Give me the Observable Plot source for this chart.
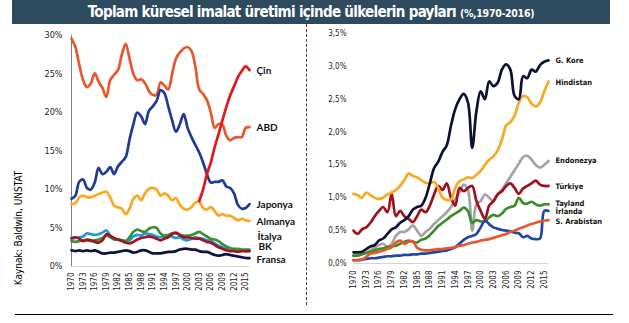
<!DOCTYPE html>
<html><head><meta charset="utf-8">
<script src="https://cdn.jsdelivr.net/npm/d3@7"></script>
<script src="https://cdn.jsdelivr.net/npm/@observablehq/plot@0.6"></script>
<style>
body{margin:0;background:#fff;width:629px;height:323px;overflow:hidden;position:relative;}
#title{position:absolute;left:12px;top:0;width:598px;height:24px;background:#2e4a5e;color:#fff;text-align:center;
 font-family:"DejaVu Sans Condensed","DejaVu Sans";font-stretch:condensed;font-weight:bold;font-size:15px;line-height:24px;letter-spacing:-0.7px;white-space:nowrap;}
#title small{font-size:10.5px;letter-spacing:-0.3px;}
#left{position:absolute;left:0;top:0}
#right{position:absolute;left:306px;top:0}
#divider{position:absolute;left:306px;top:24px;height:281px;border-left:1.3px dashed #8c1c1c}
#bottom{position:absolute;left:15px;top:314px;width:598px;border-top:1px solid #000}
#source{position:absolute;left:18px;top:228px;transform:translate(-50%,-50%) rotate(-90deg);white-space:nowrap;
 font-family:"DejaVu Sans Condensed","DejaVu Sans";font-stretch:condensed;font-size:10px;color:#000}
</style></head>
<body>
<div id="title">Toplam küresel imalat üretimi içinde ülkelerin payları <small>(%,1970-2016)</small></div>
<div id="left"></div>
<div id="right"></div>
<div id="divider"></div>
<div id="bottom"></div>
<div id="source">Kaynak: Baldwin, UNSTAT</div>
<script>
const years = d3.range(1970, 2017);
const xTicks = [1970,1973,1976,1979,1982,1985,1988,1991,1994,1997,2000,2003,2006,2009,2012,2015];
const leftTicks = [0,5,10,15,20,25,30];
const rightTicks = [0,0.5,1,1.5,2,2.5,3,3.5];

// Left panel (%)
const abd = [29.6,28.5,26.2,24.2,23.3,23.8,25.1,24.0,23.2,22.0,24.2,24.9,25.5,27.5,28.9,27.0,25.0,24.2,24.3,23.8,22.8,22.3,22.3,23.9,23.5,23.0,25.0,27.0,27.8,28.3,28.5,28.0,26.0,23.0,22.4,21.6,20.0,18.0,18.5,18.4,17.0,16.4,16.7,16.8,16.8,18.0,18.1];
const cin = [null,null,null,null,null,null,null,null,null,null,null,null,null,null,null,null,null,null,null,null,null,null,null,null,null,null,null,null,null,null,null,null,null,8.5,10.0,12.0,13.5,15.5,17.2,19.0,20.7,22.2,23.4,24.6,25.4,26.0,25.5];
const japonya = [8.8,9.2,11.0,11.3,10.2,10.0,10.9,12.8,12.0,12.3,12.9,12.0,13.0,13.6,14.2,16.5,18.5,20.0,19.5,18.5,20.2,20.8,21.5,22.9,22.5,20.8,19.0,17.5,18.5,19.8,18.0,16.8,15.8,14.8,13.5,12.0,10.9,11.0,11.0,11.2,10.4,10.2,9.5,8.0,7.5,7.6,8.1];
const almanya = [8.1,8.2,9.0,9.2,9.0,9.0,9.2,9.4,9.6,9.7,9.0,7.9,7.7,7.5,6.8,7.5,8.8,9.2,8.6,9.5,10.1,10.2,10.0,9.2,9.5,9.2,8.6,8.9,8.0,7.5,7.4,7.7,8.3,8.4,7.6,7.4,7.7,7.2,6.6,6.8,6.6,6.6,6.3,6.0,6.2,6.0,5.9];
const acikMavi = [3.6,3.7,3.8,3.9,4.3,4.2,4.1,4.2,4.4,4.7,4.0,3.6,3.5,3.4,3.3,3.4,3.9,4.1,4.0,4.3,4.2,4.1,3.9,3.8,3.9,4.0,3.9,3.7,3.8,3.5,3.4,3.6,3.8,3.7,3.6,3.4,3.3,3.0,2.7,2.5,2.3,2.2,2.1,2.1,2.1,2.0,2.0];
const italya = [3.3,3.2,3.3,3.4,3.4,3.3,3.4,3.5,3.7,4.0,3.8,3.5,3.5,3.4,3.3,3.8,4.5,4.8,4.6,4.5,4.9,5.1,5.0,4.3,4.0,4.1,4.3,4.3,4.1,4.0,4.0,4.1,4.3,4.5,4.2,3.9,3.6,3.5,3.3,2.9,2.6,2.4,2.3,2.3,2.2,2.2,2.2];
const bk = [3.7,3.8,3.6,3.3,3.5,3.4,3.2,3.1,3.4,4.2,4.0,3.7,3.5,3.3,3.1,3.0,3.2,3.5,3.7,3.8,3.9,3.8,3.6,3.4,3.6,3.8,4.2,4.4,4.1,3.8,3.8,3.7,3.6,3.6,3.4,3.2,3.1,2.8,2.5,2.3,2.1,2.0,2.0,1.9,2.0,2.0,2.0];
const fransa = [2.1,2.0,2.1,2.0,2.1,2.0,2.1,1.9,1.7,1.7,1.8,1.8,1.9,2.0,2.1,2.0,1.8,1.9,2.1,2.1,1.9,1.7,1.7,1.7,1.8,1.9,1.9,2.0,2.2,2.3,2.3,2.2,2.2,2.0,1.9,1.9,1.7,1.5,1.4,1.5,1.6,1.5,1.4,1.3,1.2,1.1,1.1];

// Right panel (%)
const gKore = [0.17,0.17,0.18,0.22,0.26,0.28,0.35,0.38,0.45,0.52,0.55,0.62,0.66,0.72,0.82,0.86,0.88,1.0,1.22,1.45,1.55,1.70,1.80,2.1,2.35,2.50,2.58,2.45,1.76,2.32,2.62,2.5,2.77,2.70,2.75,2.95,3.03,2.95,2.55,2.50,2.85,2.82,2.95,2.92,3.02,3.07,3.09];
const hindistan = [1.06,1.04,1.0,1.08,1.04,1.0,0.98,1.0,1.05,1.08,1.12,1.18,1.27,1.37,1.33,1.31,1.27,1.23,1.22,1.24,1.15,1.0,0.97,0.97,1.15,1.25,1.28,1.31,1.30,1.35,1.41,1.50,1.58,1.63,1.72,1.88,2.1,2.15,2.25,2.45,2.55,2.53,2.43,2.39,2.45,2.62,2.77];
const endonezya = [0.12,0.12,0.14,0.17,0.2,0.24,0.28,0.3,0.25,0.3,0.42,0.48,0.48,0.52,0.58,0.5,0.42,0.48,0.53,0.6,0.66,0.72,0.78,0.86,0.98,1.08,1.2,1.12,0.5,0.9,0.95,1.05,1.0,0.95,1.05,1.12,1.22,1.32,1.42,1.52,1.62,1.64,1.58,1.5,1.46,1.5,1.56];
const turkiye = [0.5,0.45,0.52,0.55,0.62,0.72,0.8,0.86,0.78,1.06,0.72,0.8,0.72,0.68,0.63,0.72,0.82,0.78,0.88,1.05,1.18,1.12,1.22,1.0,0.88,1.15,1.1,1.15,1.18,0.95,0.8,0.68,0.88,0.95,1.05,1.1,1.18,1.22,1.15,1.06,1.14,1.18,1.22,1.26,1.2,1.18,1.18];
const tayland = [0.12,0.12,0.14,0.16,0.18,0.2,0.22,0.23,0.25,0.26,0.27,0.3,0.33,0.35,0.33,0.32,0.36,0.38,0.43,0.5,0.57,0.62,0.67,0.72,0.76,0.8,0.85,0.8,0.62,0.66,0.64,0.64,0.7,0.74,0.72,0.76,0.83,0.86,0.88,1.0,0.92,0.91,0.94,0.9,0.88,0.9,0.9];
const irlanda = [0.05,0.05,0.06,0.07,0.08,0.08,0.09,0.1,0.11,0.11,0.12,0.12,0.13,0.13,0.14,0.14,0.15,0.15,0.16,0.17,0.18,0.19,0.2,0.22,0.25,0.3,0.36,0.4,0.42,0.45,0.55,0.65,0.6,0.55,0.53,0.51,0.5,0.49,0.47,0.46,0.40,0.42,0.38,0.37,0.38,0.80,0.80];
const sArabistan = [0.05,0.05,0.06,0.1,0.15,0.16,0.18,0.2,0.22,0.25,0.32,0.35,0.3,0.33,0.34,0.24,0.21,0.2,0.2,0.21,0.22,0.22,0.23,0.24,0.25,0.27,0.28,0.3,0.32,0.33,0.35,0.36,0.37,0.39,0.41,0.43,0.45,0.48,0.5,0.53,0.55,0.58,0.6,0.62,0.64,0.65,0.66];

const leftSeries = [
  {name:"", values:acikMavi, color:"#1f9ad9"},
  {name:"Fransa", values:fransa, color:"#0b1240", dy:2, dx:7},
  {name:"İtalya", values:italya, color:"#3b9033", dy:-13, dx:8},
  {name:"BK", values:bk, color:"#a3121e", dy:-4, dx:9},
  {name:"Almanya", values:almanya, color:"#fba81e", dy:1, dx:7},
  {name:"ABD", values:abd, color:"#e8572a", dy:1, dx:7},
  {name:"Japonya", values:japonya, color:"#1f3a96", dy:1, dx:7},
  {name:"Çin", values:cin, color:"#e3171e", dy:1, dx:7}
];
const rightSeries = [
  {name:"Endonezya", values:endonezya, color:"#a3a3a3", dy:0},
  {name:"Tayland", values:tayland, color:"#3c8c2c", dy:-1},
  {name:"Türkiye", values:turkiye, color:"#a0101e", dy:1},
  {name:"İrlanda", values:irlanda, color:"#1f45a5", dy:1},
  {name:"S. Arabistan", values:sArabistan, color:"#e8572a", dy:1},
  {name:"Hindistan", values:hindistan, color:"#fba81e", dy:1},
  {name:"G. Kore", values:gKore, color:"#0b1035", dy:0}
];

const tickFont = {fontFamily:"'DejaVu Sans Condensed','DejaVu Sans'"};
function rows(s){ return years.map((y,i)=>({year:y, value:s.values[i]})).filter(d=>d.value!=null); }

function panel(series, opt){
  const marks = [
    Plot.axisY({ticks:opt.yTicks, tickSize:0, tickPadding:opt.yPad, tickFormat:opt.yFmt, fontSize:opt.yFont, label:null, ...tickFont}),
    Plot.axisX({ticks:xTicks, tickSize:0, tickPadding:opt.xPad, tickRotate:-90, tickFormat:d=>String(d), fontSize:8, label:null, ...tickFont}),
    Plot.ruleY([0], {stroke:"#d4d4d4", strokeWidth:1})
  ];
  if (opt.yLine) marks.push(Plot.ruleX([1970], {stroke:"#808080", strokeWidth:1}));
  for (const s of series) {
    marks.push(Plot.line(rows(s), {x:"year", y:"value", stroke:s.color, strokeWidth:opt.sw, curve:"catmull-rom"}));
  }
  for (const s of series) {
    if (!s.name) continue;
    const r = rows(s); const last = r[r.length-1];
    marks.push(Plot.text([last], {x:"year", y:"value", text:()=>s.name, dx:(s.dx ?? 7), dy:s.dy||0, textAnchor:"start",
      fontWeight:"bold", fontSize:opt.labelFont, fontFamily:opt.labelFamily, fill:"#111"}));
  }
  return Plot.plot({
    width:opt.width, height:323,
    marginLeft:opt.ml, marginRight:opt.mr, marginTop:opt.mt, marginBottom:opt.mb,
    x:{domain:[1970,2016], axis:null},
    y:{domain:opt.yDomain, axis:null},
    style:{overflow:"visible", color:"#222", background:"transparent"},
    marks
  });
}

document.getElementById("left").append(panel(leftSeries, {
  width:306, ml:71, mr:57, mt:35, mb:57, yDomain:[0,30], yTicks:leftTicks, yPad:9, yFont:9,
  yFmt:d=>d+"%", xPad:6, yLine:true, sw:2.7, labelFont:10, labelFamily:"Lato"
}));
document.getElementById("right").append(panel(rightSeries, {
  width:323, ml:47, mr:81, mt:33, mb:60, yDomain:[0,3.5], yTicks:rightTicks, yPad:7, yFont:8,
  yFmt:d=>d.toFixed(1).replace(".",",")+"%", xPad:7, yLine:false, sw:2.7, labelFont:7.5,
  labelFamily:"'DejaVu Sans Condensed','DejaVu Sans'"
}));
</script>
</body></html>
